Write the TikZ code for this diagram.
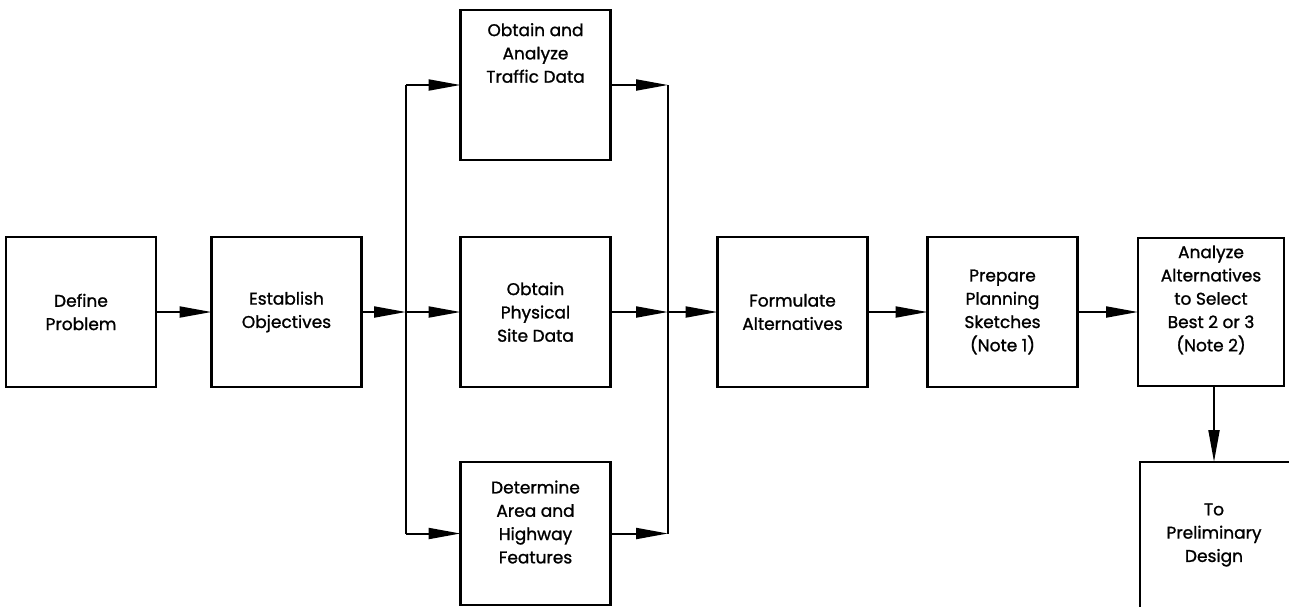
\documentclass[tikz,border=0pt]{standalone}
\usepackage{fontspec}
\setmainfont{Poppins}[BoldFont=Poppins,BoldFeatures={FakeBold=1.2}]
\usetikzlibrary{arrows.meta}
\begin{document}
\begin{tikzpicture}[x=1pt,y=-1pt,
  box/.style={draw,line width=2.6pt,minimum width=150pt,minimum height=150pt,
    inner sep=0pt,outer sep=0pt,align=center},
  txt/.style={align=center,inner sep=0pt,font=\fontsize{17}{23.3}\selectfont\bfseries},
  flow/.style={line width=2pt,-{Triangle[length=32pt,width=11pt]}},
  link/.style={line width=2pt}]
\useasboundingbox (0,0) rectangle (1289,606);
\clip (0,0) rectangle (1289,606);

% main row of steps
\node[box,txt] (define) at (81,312) {Define\\Problem};
\node[box,txt] (estab) at (286.5,312) {Establish\\Objectives};

% three data-gathering steps
\node[box] (traffic) at (535.5,85) {};
\node[txt] (traffictxt) at (535.5,53) {Obtain and\\Analyze\\Traffic Data};
\node[box,txt] (site) at (535.5,312) {Obtain\\Physical\\Site Data};
\node[box,minimum height=143pt] (feat) at (535.5,533.5) {};
\node[txt] (feattxt) at (535.5,522) {Determine\\Area and\\Highway\\Features};

\node[box,txt] (form) at (792.5,312) {Formulate\\Alternatives};
\node[box,txt] (prep) at (1002.5,312) {Prepare\\Planning\\Sketches\\(Note 1)};
\node[box,minimum width=146pt,minimum height=148pt] (anal) at (1211,312) {};
\node[txt] (analtxt) at (1211,300) {Analyze\\Alternatives\\to Select\\Best 2 or 3\\(Note 2)};

% final step, running past the page edge
\node[box,minimum width=170pt,minimum height=170pt] (prelim) at (1225,547) {};
\node[txt] (prelimtxt) at (1214,535) {To\\Preliminary\\Design};

% split and merge points
\coordinate (split) at (406,312);
\coordinate (splitT) at (406,85);
\coordinate (splitB) at (406,533.5);
\coordinate (merge) at (668,312);
\coordinate (mergeT) at (668,85);
\coordinate (mergeB) at (668,533.5);

\draw[flow] (define) -- (estab);
\draw[flow] (estab) -- (split);
\draw[link] (splitT) -- (splitB);
\draw[flow] (splitT) -- (traffic.west |- splitT);
\draw[flow] (split) -- (site);
\draw[flow] (splitB) -- (feat.west |- splitB);

\draw[flow] (traffic.east |- mergeT) -- (mergeT);
\draw[flow] (site) -- (merge);
\draw[flow] (feat.east |- mergeB) -- (mergeB);
\draw[link] (mergeT) -- (mergeB);
\draw[flow] (merge) -- (form);

\draw[flow] (form) -- (prep);
\draw[flow] (prep) -- (anal);
\draw[flow] (anal.south -| prelimtxt) -- (prelim.north -| prelimtxt);
\end{tikzpicture}
\end{document}
